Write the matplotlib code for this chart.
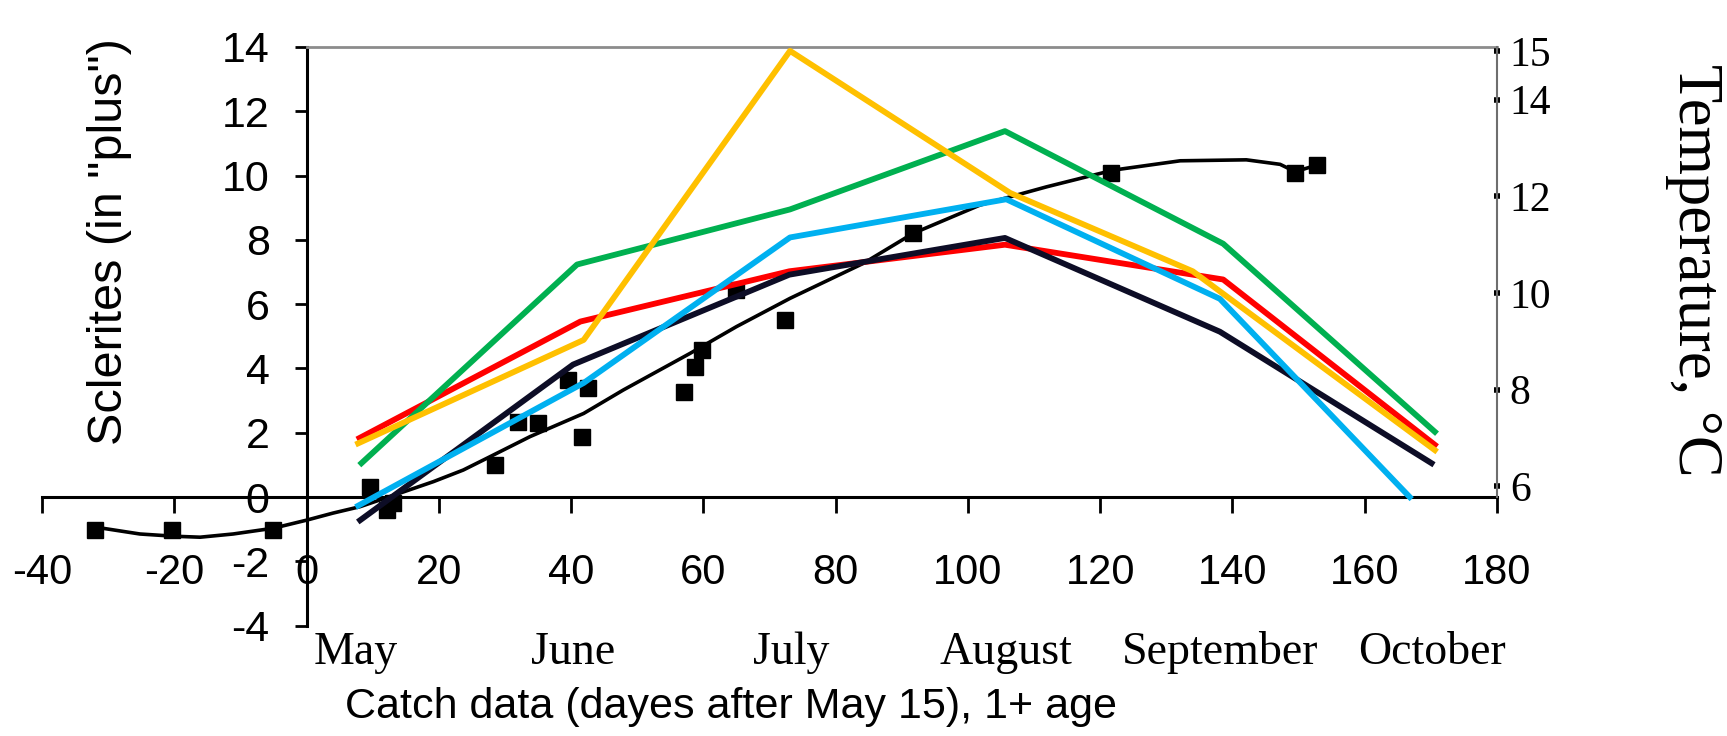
import matplotlib.pyplot as plt

# --- data ---
# sclerite counts (left axis), days after May 15
obs_days = [-32, -20.3, -5, 9.6, 12.1, 13, 28.5, 32, 35, 39.6, 41.6, 42.6,
            57, 58.7, 59.8, 65, 72.3, 91.7, 121.7, 149.5, 152.8]
obs_sclerites = [-1.03, -1.03, -1.03, 0.3, -0.4, -0.2, 1.0, 2.34, 2.29, 3.64, 1.88, 3.38,
                 3.28, 4.05, 4.57, 6.45, 5.51, 8.2, 10.07, 10.07, 10.33]

# fitted growth curve
fit_days = [-31.5, -25.2, -20, -16.1, -11.1, -5, 0, 4, 8.1, 14.1, 19.2, 23.7, 27.7,
            33.8, 41.9, 47.9, 58, 65, 73.1, 84.2, 91.7, 101.8, 111.9, 122, 132.1,
            142.1, 147.2, 149.5, 152.8]
fit_sclerites = [-0.95, -1.15, -1.22, -1.25, -1.15, -0.97, -0.72, -0.5, -0.3, 0.12, 0.48,
                 0.84, 1.25, 1.88, 2.6, 3.33, 4.47, 5.3, 6.18, 7.27, 8.2, 9.08, 9.65,
                 10.17, 10.46, 10.49, 10.35, 10.12, 10.33]

# monthly temperatures (right axis)
red_x = [8, 41.4, 73, 105.6, 138.6, 170.6]
red_t = [7.0, 9.41, 10.45, 11.0, 10.28, 6.86]
black_x = [8.1, 40.3, 73, 105.6, 138.1, 170.1]
black_t = [5.3, 8.52, 10.38, 11.14, 9.2, 6.48]
blue_x = [7.8, 41.9, 73.1, 105.8, 138.1, 166.8]
blue_t = [5.6, 8.14, 11.15, 11.94, 9.88, 5.78]
green_x = [8.3, 40.9, 73.1, 105.6, 138.6, 170.6]
green_t = [6.48, 10.59, 11.73, 13.35, 11.02, 7.13]
yellow_x = [7.8, 41.9, 73.1, 106.4, 134, 170.6]
yellow_t = [6.89, 9.03, 15.01, 12.07, 10.45, 6.75]

months = ["May", "June", "July", "August", "September", "October"]
month_days = [7.5, 40.3, 73.3, 105.8, 138.1, 170.2]

x_ticks = list(range(-40, 181, 20))
y_ticks = [-4, -2, 0, 2, 4, 6, 8, 10, 12, 14]
t_ticks = [6, 8, 10, 12, 14, 15]

plt.rcParams['font.family'] = 'Liberation Sans'
plt.rcParams['axes.unicode_minus'] = False

W, H = 1727, 736
fig = plt.figure(figsize=(W / 100, H / 100), dpi=100)
ax = fig.add_axes([42 / W, 1 - 625.6 / H, (1497 - 42) / W, (625.6 - 47) / H])

ax.set_xlim(-40, 180)
ax.set_ylim(-4, 14)

# spines crossing at the origin
ax.spines['left'].set_position(('data', 0))
ax.spines['bottom'].set_position(('data', 0))
ax.spines['left'].set_bounds(-4, 14)
ax.spines['left'].set_linewidth(2.2)
ax.spines['bottom'].set_linewidth(2.2)
ax.spines['top'].set_bounds(0, 180)
ax.spines['top'].set_color('#8c8c8c')
ax.spines['top'].set_linewidth(2)
ax.spines['right'].set_visible(False)

ax.set_xticks(x_ticks)
ax.set_yticks(y_ticks)
ax.tick_params(axis='x', direction='out', length=11.5, width=2, pad=29, labelsize=30)
ax.tick_params(axis='y', direction='out', length=8.5, width=2, pad=18, labelsize=31)

ax.plot(fit_days, fit_sclerites, color='black', lw=2.6, zorder=3, clip_on=False)
ax.plot(obs_days, obs_sclerites, 's', color='black', ms=11, zorder=4, clip_on=False)

# temperature axis
ax2 = ax.twinx()
ax2.set_ylim(3.12, 15.09)
for s in ['left', 'top', 'bottom']:
    ax2.spines[s].set_visible(False)
ax2.spines['right'].set_bounds(5.78, 15.09)
ax2.spines['right'].set_color('#6e6e6e')
ax2.spines['right'].set_linewidth(1.5)
ax2.set_yticks(t_ticks)
ax2.tick_params(axis='y', direction='inout', length=4.5, width=4, pad=7, labelsize=30)
for lab in ax2.get_yticklabels():
    lab.set_fontfamily('Liberation Serif')

ax2.plot(red_x, red_t, color='#ff0000', lw=4.2)
ax2.plot(black_x, black_t, color='#0d0d26', lw=4.2)
ax2.plot(blue_x, blue_t, color='#00b0f0', lw=4.2)
ax2.plot(green_x, green_t, color='#00b050', lw=4.2)
ax2.plot(yellow_x, yellow_t, color='#ffc000', lw=4.2, clip_on=False)

# month names under the axis
for m, d in zip(months, month_days):
    ax.text(d, -4.85, m, ha='center', va='center', fontsize=33,
            family='Liberation Serif', clip_on=False)

fig.text(731 / W, 1 - 707 / H, 'Catch data (dayes after May 15), 1+ age',
         ha='center', va='center', fontsize=31)
fig.text(110 / W, 1 - 242 / H, 'Sclerites (in "plus")', rotation=90,
         ha='center', va='center', fontsize=35)
fig.text(1694 / W, 1 - 270 / H, 'Temperature, °C', rotation=270,
         ha='center', va='center', fontsize=45, family='Liberation Serif')

fig.savefig('out.png', dpi=100)
